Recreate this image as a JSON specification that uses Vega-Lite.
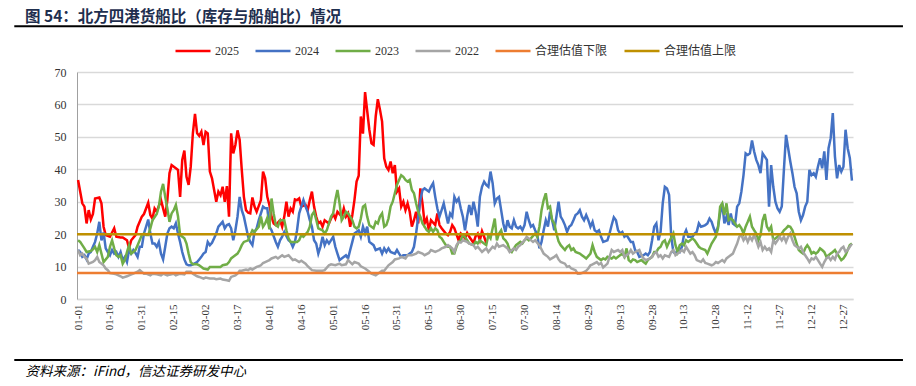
{
  "$schema": "https://vega.github.io/schema/vega-lite/v6.json",
  "width": 776,
  "height": 227,
  "autosize": "none",
  "padding": {"left": 77, "top": 72, "right": 63, "bottom": 87},
  "background": "white",
  "title": {
    "text": "图 54：北方四港货船比（库存与船舶比）情况",
    "anchor": "start",
    "frame": "group",
    "dx": -52,
    "dy": 10,
    "offset": 10,
    "font": "Noto Sans CJK SC",
    "fontSize": 15.5,
    "fontWeight": "bold",
    "color": "#1f2f4f"
  },
  "config": {
    "view": {"stroke": null},
    "axis": {"labelOverlap": false, "labelFlush": false, "labelBound": false, "ticks": false, "tickSize": 0},
    "axisX": {
      "labelAngle": 270,
      "labelFont": "Liberation Serif",
      "labelFontSize": 11,
      "labelColor": "#333333",
      "labelPadding": 5,
      "grid": false,
      "domainColor": "#d9d9d9",
      "domainWidth": 1.5,
      "titleAnchor": "start",
      "titleAlign": "left",
      "titleBaseline": "middle",
      "titleX": -52,
      "titleY": 72,
      "titleFont": "Noto Sans CJK SC",
      "titleFontSize": 13.5,
      "titleFontStyle": "italic",
      "titleFontWeight": "normal",
      "titleColor": "#000000"
    },
    "axisY": {
      "grid": true,
      "gridColor": "#d9d9d9",
      "gridWidth": 1.3,
      "domainColor": "#a0a0a0",
      "domainWidth": 1,
      "labelFont": "Liberation Serif",
      "labelFontSize": 12,
      "labelColor": "#333333",
      "labelPadding": 11
    },
    "legend": {
      "orient": "none",
      "title": null,
      "direction": "horizontal",
      "symbolType": "stroke",
      "symbolSize": 1225,
      "symbolStrokeWidth": 2.5,
      "labelFont": "Liberation Serif, Noto Sans CJK SC",
      "labelFontSize": 12,
      "labelColor": "#333333",
      "labelOffset": 3,
      "columnPadding": 11,
      "labelLimit": 200
    }
  },
  "datasets": {
    "a2025": [{"d":0,"v":36.7},{"d":2,"v":29.5},{"d":3,"v":28.5},{"d":4,"v":23.3},{"d":5,"v":27.4},{"d":6,"v":24.5},{"d":7,"v":26.2},{"d":8,"v":31},{"d":10,"v":31.3},{"d":11,"v":29.5},{"d":12,"v":22.3},{"d":13,"v":19.7},{"d":15,"v":19.2},{"d":17,"v":21.8},{"d":18,"v":19.2},{"d":20,"v":19},{"d":21,"v":19},{"d":23,"v":18.1},{"d":24,"v":15.6},{"d":25,"v":18.1},{"d":27,"v":19.7},{"d":28,"v":22.3},{"d":30,"v":25.4},{"d":31,"v":26.2},{"d":33,"v":29.7},{"d":34,"v":25.9},{"d":35,"v":24.8},{"d":36,"v":27.9},{"d":37,"v":26.9},{"d":38,"v":28.7},{"d":39,"v":30.5},{"d":41,"v":25.4},{"d":42,"v":30.5},{"d":43,"v":38.8},{"d":44,"v":41.3},{"d":46,"v":40.3},{"d":47,"v":39.8},{"d":48,"v":31.5},{"d":49,"v":42.9},{"d":50,"v":45.8},{"d":51,"v":37.7},{"d":52,"v":35.2},{"d":53,"v":40.8},{"d":54,"v":51.1},{"d":55,"v":57.1},{"d":56,"v":51.1},{"d":57,"v":50.3},{"d":58,"v":51.6},{"d":59,"v":47.5},{"d":60,"v":51.6},{"d":61,"v":51.1},{"d":62,"v":39.3},{"d":63,"v":37.2},{"d":64,"v":33.6},{"d":65,"v":30},{"d":66,"v":33.1},{"d":67,"v":32},{"d":68,"v":34.6},{"d":69,"v":30},{"d":70,"v":34.8},{"d":71,"v":25.4},{"d":72,"v":51.1},{"d":73,"v":44.9},{"d":74,"v":47.5},{"d":75,"v":52},{"d":76,"v":49.1},{"d":77,"v":39.8},{"d":78,"v":31.5},{"d":79,"v":27.4},{"d":80,"v":26.6},{"d":81,"v":26.4},{"d":82,"v":31.3},{"d":83,"v":28.5},{"d":84,"v":26.9},{"d":86,"v":30.5},{"d":87,"v":39.3},{"d":88,"v":37.2},{"d":89,"v":31.5},{"d":90,"v":29},{"d":91,"v":25.4},{"d":92,"v":23.3},{"d":93,"v":22.8},{"d":95,"v":24.3},{"d":96,"v":22.3},{"d":97,"v":25.4},{"d":98,"v":30},{"d":99,"v":25.4},{"d":100,"v":27.9},{"d":101,"v":26.9},{"d":102,"v":30.7},{"d":103,"v":30.5},{"d":104,"v":31},{"d":105,"v":28.5},{"d":107,"v":29},{"d":108,"v":27.4},{"d":109,"v":30.5},{"d":110,"v":33.1},{"d":111,"v":28.5},{"d":112,"v":25.4},{"d":113,"v":23.3},{"d":114,"v":23.8},{"d":115,"v":22.3},{"d":116,"v":24.3},{"d":118,"v":23.3},{"d":119,"v":24.8},{"d":120,"v":26.2},{"d":121,"v":24.8},{"d":122,"v":26.9},{"d":124,"v":25.4},{"d":125,"v":27.9},{"d":126,"v":25.4},{"d":127,"v":26.4},{"d":128,"v":22.3},{"d":129,"v":25.9},{"d":130,"v":30.5},{"d":131,"v":36.2},{"d":132,"v":38},{"d":133,"v":56.3},{"d":134,"v":51},{"d":135,"v":63.8},{"d":136,"v":58},{"d":137,"v":52.2},{"d":138,"v":48},{"d":139,"v":47.5},{"d":140,"v":56.3},{"d":141,"v":61.6},{"d":142,"v":58.4},{"d":143,"v":54.7},{"d":144,"v":43.4},{"d":145,"v":40.8},{"d":146,"v":39.8},{"d":147,"v":42.4},{"d":148,"v":38.8},{"d":149,"v":41.3},{"d":150,"v":33.1},{"d":151,"v":34.1},{"d":152,"v":28.5},{"d":153,"v":30},{"d":154,"v":27.4},{"d":155,"v":29.5},{"d":156,"v":26.9},{"d":157,"v":22.3},{"d":158,"v":24.3},{"d":159,"v":26.9},{"d":160,"v":23.3},{"d":161,"v":34.1},{"d":162,"v":29.5},{"d":163,"v":23.3},{"d":164,"v":24.8},{"d":165,"v":21.2},{"d":166,"v":24.3},{"d":168,"v":22.8},{"d":169,"v":26.4},{"d":170,"v":22.8},{"d":171,"v":21.8},{"d":173,"v":20.2},{"d":174,"v":19.7},{"d":175,"v":20.7},{"d":176,"v":22.8},{"d":177,"v":21.8},{"d":179,"v":18.1},{"d":180,"v":20.2},{"d":181,"v":19.6},{"d":182,"v":18.7},{"d":183,"v":20.4},{"d":184,"v":19.2},{"d":186,"v":17.3},{"d":187,"v":19.4},{"d":188,"v":20.2},{"d":189,"v":18.1},{"d":190,"v":20.9},{"d":191,"v":19.2},{"d":192,"v":17.3}],
    "a2024": [{"d":0,"v":15.1},{"d":1,"v":14.5},{"d":2,"v":13},{"d":3,"v":13.5},{"d":4,"v":12.2},{"d":5,"v":14},{"d":6,"v":14.5},{"d":7,"v":16.1},{"d":8,"v":17.6},{"d":9,"v":20.2},{"d":10,"v":23.8},{"d":11,"v":18.1},{"d":12,"v":20.5},{"d":13,"v":15.6},{"d":14,"v":14.5},{"d":15,"v":13.5},{"d":16,"v":15.1},{"d":17,"v":14},{"d":18,"v":14.5},{"d":19,"v":13},{"d":20,"v":14.5},{"d":21,"v":12},{"d":22,"v":13},{"d":23,"v":11.4},{"d":24,"v":15.1},{"d":25,"v":14},{"d":26,"v":15.1},{"d":27,"v":14.2},{"d":28,"v":13},{"d":29,"v":16.1},{"d":30,"v":16.1},{"d":31,"v":20.2},{"d":32,"v":22.3},{"d":33,"v":24.5},{"d":34,"v":20.2},{"d":35,"v":17.1},{"d":36,"v":17.1},{"d":37,"v":16.1},{"d":38,"v":17.6},{"d":39,"v":14},{"d":40,"v":12.2},{"d":41,"v":16.1},{"d":42,"v":20.2},{"d":43,"v":21.8},{"d":44,"v":22.3},{"d":45,"v":21.8},{"d":46,"v":23.3},{"d":47,"v":20.2},{"d":48,"v":17.6},{"d":49,"v":14.5},{"d":50,"v":12.2},{"d":51,"v":10.7},{"d":52,"v":10.4},{"d":53,"v":10.4},{"d":54,"v":10.7},{"d":56,"v":11.4},{"d":57,"v":12.2},{"d":58,"v":13},{"d":59,"v":14},{"d":60,"v":14.5},{"d":61,"v":17.6},{"d":62,"v":16.6},{"d":63,"v":17.3},{"d":64,"v":18.7},{"d":65,"v":20.2},{"d":66,"v":22.3},{"d":68,"v":23.8},{"d":69,"v":21.8},{"d":70,"v":22.8},{"d":71,"v":23.1},{"d":72,"v":21.8},{"d":73,"v":18.1},{"d":74,"v":21.2},{"d":75,"v":25.4},{"d":76,"v":31.5},{"d":77,"v":27.4},{"d":78,"v":25.4},{"d":79,"v":22.3},{"d":80,"v":19.2},{"d":81,"v":17.6},{"d":82,"v":16.6},{"d":83,"v":20.7},{"d":84,"v":21.8},{"d":85,"v":24.3},{"d":86,"v":26.4},{"d":87,"v":28.5},{"d":88,"v":28},{"d":89,"v":28},{"d":90,"v":22.3},{"d":91,"v":21.2},{"d":93,"v":17.6},{"d":94,"v":16.1},{"d":95,"v":18.1},{"d":96,"v":19.2},{"d":97,"v":20.7},{"d":99,"v":18.1},{"d":100,"v":17.6},{"d":101,"v":16.1},{"d":102,"v":17.6},{"d":103,"v":21.2},{"d":104,"v":26.4},{"d":106,"v":30.5},{"d":107,"v":28.5},{"d":108,"v":26.9},{"d":109,"v":24.3},{"d":110,"v":22.3},{"d":111,"v":18.1},{"d":112,"v":17.1},{"d":113,"v":14},{"d":114,"v":16.1},{"d":115,"v":19.2},{"d":116,"v":16.6},{"d":117,"v":18.1},{"d":118,"v":17.1},{"d":120,"v":19.2},{"d":121,"v":16.1},{"d":122,"v":14},{"d":123,"v":12},{"d":124,"v":12.5},{"d":126,"v":13.5},{"d":127,"v":12.5},{"d":128,"v":15.1},{"d":129,"v":17.6},{"d":130,"v":20.2},{"d":132,"v":21.2},{"d":133,"v":19.2},{"d":134,"v":22.3},{"d":135,"v":20.2},{"d":136,"v":22.3},{"d":137,"v":17.6},{"d":138,"v":17.1},{"d":139,"v":16.6},{"d":140,"v":15.1},{"d":142,"v":15.6},{"d":143,"v":14},{"d":144,"v":15.6},{"d":145,"v":14.5},{"d":146,"v":15.6},{"d":147,"v":14.5},{"d":149,"v":14},{"d":150,"v":15.1},{"d":151,"v":14},{"d":152,"v":13},{"d":153,"v":13.5},{"d":155,"v":13.5},{"d":156,"v":14},{"d":157,"v":14.5},{"d":158,"v":16.1},{"d":159,"v":20.2},{"d":160,"v":25.4},{"d":161,"v":30.5},{"d":162,"v":33.6},{"d":163,"v":34.1},{"d":165,"v":33.1},{"d":166,"v":34.6},{"d":167,"v":35.7},{"d":168,"v":31.5},{"d":169,"v":27.9},{"d":170,"v":25.4},{"d":171,"v":27.4},{"d":172,"v":29.5},{"d":173,"v":26.4},{"d":174,"v":23.3},{"d":175,"v":26.4},{"d":176,"v":25.4},{"d":177,"v":31.5},{"d":178,"v":30},{"d":179,"v":31},{"d":180,"v":28},{"d":181,"v":25.4},{"d":182,"v":21.2},{"d":183,"v":25.4},{"d":184,"v":29},{"d":185,"v":25.9},{"d":186,"v":30},{"d":187,"v":26.9},{"d":188,"v":22.3},{"d":189,"v":31.5},{"d":190,"v":34.6},{"d":191,"v":36.2},{"d":192,"v":35.2},{"d":193,"v":34.6},{"d":194,"v":39.3},{"d":195,"v":35.7},{"d":196,"v":29.5},{"d":197,"v":31},{"d":198,"v":31.5},{"d":199,"v":27.4},{"d":200,"v":23.3},{"d":201,"v":20.7},{"d":202,"v":24.3},{"d":203,"v":22.3},{"d":204,"v":21.8},{"d":205,"v":24.3},{"d":206,"v":22.3},{"d":207,"v":21.8},{"d":208,"v":22.3},{"d":209,"v":21.2},{"d":210,"v":22.8},{"d":211,"v":26.9},{"d":212,"v":24.3},{"d":213,"v":22.3},{"d":214,"v":22.8},{"d":215,"v":21.2},{"d":216,"v":19.7},{"d":217,"v":15.6},{"d":218,"v":17.6},{"d":219,"v":21.2},{"d":220,"v":24.3},{"d":221,"v":22.3},{"d":222,"v":26.9},{"d":223,"v":24.3},{"d":224,"v":21.2},{"d":225,"v":25.4},{"d":226,"v":30},{"d":227,"v":25.4},{"d":228,"v":24.3},{"d":229,"v":22.8},{"d":230,"v":20.7},{"d":231,"v":22.3},{"d":232,"v":22.8},{"d":233,"v":24.3},{"d":234,"v":25.9},{"d":235,"v":26.4},{"d":236,"v":27.4},{"d":237,"v":25.4},{"d":238,"v":24.3},{"d":239,"v":25.9},{"d":240,"v":24.3},{"d":241,"v":22.3},{"d":242,"v":23.8},{"d":243,"v":21.2},{"d":244,"v":20.7},{"d":245,"v":21.2},{"d":246,"v":19.2},{"d":247,"v":17.6},{"d":249,"v":18.1},{"d":250,"v":20.2},{"d":251,"v":22.8},{"d":252,"v":25.2},{"d":253,"v":24.3},{"d":254,"v":21.2},{"d":255,"v":20.2},{"d":256,"v":20.7},{"d":257,"v":19.2},{"d":258,"v":19.7},{"d":260,"v":17.6},{"d":261,"v":17.6},{"d":262,"v":15.1},{"d":263,"v":14.5},{"d":264,"v":13},{"d":266,"v":13.5},{"d":267,"v":14},{"d":268,"v":13.5},{"d":269,"v":14.5},{"d":270,"v":18.1},{"d":271,"v":22.3},{"d":272,"v":23.3},{"d":273,"v":18.1},{"d":274,"v":20.7},{"d":275,"v":29.5},{"d":276,"v":34.6},{"d":277,"v":34.1},{"d":278,"v":32.1},{"d":279,"v":19.2},{"d":280,"v":14.5},{"d":281,"v":14},{"d":282,"v":15.1},{"d":283,"v":14.5},{"d":284,"v":16.1},{"d":285,"v":19.7},{"d":286,"v":21.2},{"d":287,"v":19.2},{"d":289,"v":19.2},{"d":290,"v":20.2},{"d":291,"v":20.7},{"d":292,"v":23.3},{"d":293,"v":22.3},{"d":294,"v":22.5},{"d":295,"v":22.8},{"d":296,"v":23.3},{"d":297,"v":24.8},{"d":298,"v":23.8},{"d":299,"v":21.8},{"d":300,"v":20.2},{"d":301,"v":22.3},{"d":302,"v":26.4},{"d":303,"v":29.5},{"d":304,"v":23.3},{"d":305,"v":25.4},{"d":306,"v":22.8},{"d":307,"v":26.4},{"d":308,"v":23.3},{"d":309,"v":22.8},{"d":310,"v":28.5},{"d":311,"v":29.5},{"d":312,"v":33.1},{"d":313,"v":38.2},{"d":314,"v":44.9},{"d":315,"v":44.4},{"d":316,"v":44.9},{"d":317,"v":48.9},{"d":318,"v":45.5},{"d":319,"v":42.9},{"d":320,"v":41.3},{"d":321,"v":38.8},{"d":322,"v":44.9},{"d":323,"v":43.9},{"d":324,"v":42.9},{"d":325,"v":28.5},{"d":326,"v":41.3},{"d":327,"v":34.6},{"d":328,"v":30},{"d":329,"v":27.9},{"d":330,"v":26.9},{"d":331,"v":28.5},{"d":332,"v":39.8},{"d":333,"v":50.6},{"d":334,"v":46.5},{"d":335,"v":42.4},{"d":336,"v":38.8},{"d":337,"v":34.6},{"d":338,"v":32.6},{"d":339,"v":26.9},{"d":340,"v":24.3},{"d":341,"v":25.9},{"d":342,"v":28.5},{"d":343,"v":30},{"d":344,"v":39.8},{"d":345,"v":38.2},{"d":346,"v":38.8},{"d":347,"v":37.7},{"d":348,"v":40.8},{"d":349,"v":43.4},{"d":350,"v":40.3},{"d":351,"v":45.5},{"d":352,"v":36.7},{"d":353,"v":46.5},{"d":354,"v":49.6},{"d":355,"v":57.3},{"d":356,"v":44},{"d":357,"v":37.2},{"d":358,"v":41.3},{"d":359,"v":39.3},{"d":360,"v":40.8},{"d":361,"v":52.2},{"d":362,"v":46.5},{"d":363,"v":43.5},{"d":364,"v":36.5}],
    "a2023": [{"d":0,"v":18.1},{"d":1,"v":17.6},{"d":2,"v":16.6},{"d":3,"v":15.6},{"d":4,"v":14.5},{"d":6,"v":14.8},{"d":7,"v":15.3},{"d":8,"v":16.1},{"d":9,"v":14.5},{"d":10,"v":16.6},{"d":11,"v":14},{"d":12,"v":11.4},{"d":14,"v":13},{"d":15,"v":16.1},{"d":16,"v":18.1},{"d":17,"v":15.6},{"d":18,"v":13.5},{"d":19,"v":13},{"d":20,"v":13.5},{"d":21,"v":10.9},{"d":22,"v":12},{"d":23,"v":14.5},{"d":24,"v":16.6},{"d":25,"v":14},{"d":26,"v":14.5},{"d":27,"v":15.1},{"d":28,"v":16.6},{"d":30,"v":19.7},{"d":31,"v":20.2},{"d":32,"v":19.7},{"d":33,"v":19.7},{"d":34,"v":21.8},{"d":35,"v":24.3},{"d":37,"v":26.2},{"d":38,"v":28.5},{"d":39,"v":33.1},{"d":40,"v":35.5},{"d":41,"v":31.5},{"d":42,"v":27.9},{"d":43,"v":23.8},{"d":44,"v":26.4},{"d":45,"v":27.4},{"d":46,"v":29},{"d":47,"v":25.5},{"d":48,"v":19.7},{"d":50,"v":18.7},{"d":51,"v":17.1},{"d":52,"v":14},{"d":53,"v":11.4},{"d":54,"v":10.7},{"d":56,"v":10.7},{"d":57,"v":10.4},{"d":59,"v":9.4},{"d":61,"v":9.1},{"d":62,"v":9.9},{"d":64,"v":9.9},{"d":65,"v":9.9},{"d":67,"v":9.9},{"d":68,"v":10.4},{"d":70,"v":10.7},{"d":71,"v":11.4},{"d":72,"v":12.5},{"d":73,"v":13},{"d":75,"v":14},{"d":76,"v":15.1},{"d":77,"v":16.6},{"d":78,"v":17.6},{"d":80,"v":18.1},{"d":81,"v":19.7},{"d":82,"v":21.2},{"d":83,"v":20.7},{"d":85,"v":22.3},{"d":86,"v":25.4},{"d":87,"v":22.3},{"d":88,"v":23.3},{"d":89,"v":25},{"d":90,"v":21.5},{"d":91,"v":31},{"d":92,"v":26.4},{"d":93,"v":22.8},{"d":94,"v":22.3},{"d":95,"v":24.3},{"d":97,"v":24.3},{"d":98,"v":21.2},{"d":99,"v":18.7},{"d":100,"v":17.6},{"d":101,"v":17.6},{"d":103,"v":17.6},{"d":104,"v":18.1},{"d":105,"v":19.7},{"d":106,"v":19.2},{"d":108,"v":20.7},{"d":109,"v":22.3},{"d":110,"v":25.9},{"d":111,"v":26.9},{"d":112,"v":24.5},{"d":113,"v":21.8},{"d":115,"v":21.2},{"d":116,"v":20.2},{"d":117,"v":21.2},{"d":118,"v":23.3},{"d":119,"v":25.4},{"d":120,"v":26.4},{"d":121,"v":30.5},{"d":122,"v":33.6},{"d":123,"v":29.5},{"d":124,"v":24.3},{"d":125,"v":25.4},{"d":126,"v":26.9},{"d":127,"v":26.4},{"d":128,"v":25.4},{"d":129,"v":24.3},{"d":130,"v":22.3},{"d":131,"v":21.8},{"d":132,"v":22.3},{"d":133,"v":24.8},{"d":134,"v":28.5},{"d":135,"v":29},{"d":136,"v":25.4},{"d":137,"v":22.8},{"d":138,"v":22.3},{"d":139,"v":21.8},{"d":140,"v":23.8},{"d":141,"v":23.3},{"d":142,"v":25.4},{"d":143,"v":26.4},{"d":144,"v":22.3},{"d":145,"v":22.8},{"d":146,"v":24.8},{"d":147,"v":28.5},{"d":148,"v":30},{"d":149,"v":32.6},{"d":150,"v":35.2},{"d":151,"v":36.7},{"d":152,"v":38.2},{"d":153,"v":37.7},{"d":154,"v":36.7},{"d":155,"v":36.2},{"d":156,"v":36.7},{"d":157,"v":33.6},{"d":158,"v":32.6},{"d":159,"v":29.5},{"d":160,"v":26.9},{"d":161,"v":25.4},{"d":162,"v":23.3},{"d":163,"v":22.3},{"d":164,"v":21.2},{"d":165,"v":20.7},{"d":166,"v":21.8},{"d":167,"v":20.7},{"d":168,"v":21.8},{"d":169,"v":21.2},{"d":170,"v":19.2},{"d":171,"v":18.7},{"d":172,"v":17.6},{"d":173,"v":16.6},{"d":174,"v":16.1},{"d":175,"v":16.1},{"d":176,"v":14},{"d":177,"v":14},{"d":178,"v":16.1},{"d":179,"v":17.6},{"d":180,"v":18.1},{"d":181,"v":19.7},{"d":182,"v":19.2},{"d":183,"v":18.1},{"d":184,"v":17.1},{"d":186,"v":16.6},{"d":187,"v":17.6},{"d":188,"v":17.1},{"d":189,"v":18.1},{"d":190,"v":17.6},{"d":192,"v":16.6},{"d":193,"v":19.7},{"d":194,"v":18.7},{"d":195,"v":21.8},{"d":196,"v":24.8},{"d":197,"v":18.1},{"d":198,"v":20.2},{"d":199,"v":21.2},{"d":200,"v":18.7},{"d":201,"v":18.1},{"d":202,"v":17.1},{"d":203,"v":15.1},{"d":204,"v":14.5},{"d":205,"v":15.6},{"d":206,"v":16.6},{"d":208,"v":17.6},{"d":209,"v":17.1},{"d":210,"v":18.1},{"d":211,"v":18.7},{"d":212,"v":18.1},{"d":213,"v":18.7},{"d":215,"v":20.2},{"d":216,"v":19.2},{"d":217,"v":22.3},{"d":218,"v":27.4},{"d":219,"v":30.5},{"d":220,"v":32.6},{"d":221,"v":28},{"d":222,"v":28.5},{"d":223,"v":24.3},{"d":224,"v":23.3},{"d":225,"v":20.2},{"d":226,"v":17.8},{"d":227,"v":16.6},{"d":229,"v":15.1},{"d":230,"v":16.1},{"d":231,"v":16.6},{"d":232,"v":15.1},{"d":233,"v":15.6},{"d":234,"v":14.5},{"d":236,"v":14},{"d":237,"v":13.5},{"d":238,"v":13},{"d":239,"v":12.5},{"d":241,"v":14},{"d":242,"v":16.6},{"d":243,"v":14.5},{"d":244,"v":13},{"d":246,"v":12},{"d":247,"v":12.5},{"d":248,"v":12.2},{"d":249,"v":13},{"d":251,"v":12.5},{"d":252,"v":13},{"d":253,"v":12.5},{"d":254,"v":13},{"d":256,"v":14},{"d":257,"v":13},{"d":258,"v":15.6},{"d":259,"v":12},{"d":260,"v":11.4},{"d":261,"v":12.2},{"d":262,"v":12},{"d":263,"v":11.4},{"d":265,"v":12},{"d":266,"v":11.4},{"d":267,"v":10.9},{"d":268,"v":12},{"d":270,"v":13},{"d":271,"v":14.5},{"d":272,"v":14.5},{"d":273,"v":15.6},{"d":274,"v":16.1},{"d":275,"v":17.6},{"d":276,"v":18.1},{"d":277,"v":16.1},{"d":278,"v":17.6},{"d":280,"v":20.2},{"d":281,"v":16.6},{"d":282,"v":14.5},{"d":283,"v":16.6},{"d":284,"v":17.1},{"d":285,"v":16.6},{"d":286,"v":18.1},{"d":287,"v":17.6},{"d":289,"v":18.7},{"d":290,"v":18.1},{"d":291,"v":17.1},{"d":292,"v":16.1},{"d":293,"v":15.6},{"d":295,"v":15.1},{"d":296,"v":14},{"d":297,"v":15.6},{"d":298,"v":17.1},{"d":300,"v":19.2},{"d":301,"v":21.8},{"d":302,"v":28.5},{"d":303,"v":29.5},{"d":304,"v":26},{"d":305,"v":29.5},{"d":306,"v":24.3},{"d":307,"v":24.8},{"d":308,"v":24.3},{"d":309,"v":23.3},{"d":310,"v":22.3},{"d":311,"v":22.8},{"d":312,"v":21.8},{"d":313,"v":20.2},{"d":314,"v":22.3},{"d":315,"v":23.8},{"d":316,"v":25.4},{"d":317,"v":22.3},{"d":318,"v":21.2},{"d":319,"v":20.2},{"d":320,"v":18.1},{"d":321,"v":19.7},{"d":322,"v":24.3},{"d":323,"v":26.2},{"d":324,"v":22.3},{"d":325,"v":21.2},{"d":326,"v":22.3},{"d":327,"v":18.1},{"d":328,"v":18.7},{"d":329,"v":19.2},{"d":330,"v":19.7},{"d":331,"v":20.2},{"d":332,"v":21.2},{"d":333,"v":21.8},{"d":334,"v":22.5},{"d":335,"v":22.3},{"d":336,"v":21.2},{"d":337,"v":19.2},{"d":338,"v":17.1},{"d":339,"v":15.1},{"d":340,"v":14.5},{"d":341,"v":14},{"d":342,"v":15.6},{"d":343,"v":16.6},{"d":344,"v":15.6},{"d":345,"v":14},{"d":346,"v":14.5},{"d":347,"v":14},{"d":348,"v":14.5},{"d":349,"v":15.6},{"d":350,"v":15.1},{"d":351,"v":14.5},{"d":352,"v":13},{"d":353,"v":13.5},{"d":354,"v":14},{"d":355,"v":14.5},{"d":356,"v":15.1},{"d":357,"v":14},{"d":358,"v":13},{"d":359,"v":12},{"d":360,"v":12.5},{"d":361,"v":13.5},{"d":362,"v":15.1},{"d":363,"v":16.6},{"d":364,"v":17.1}],
    "a2022": [{"d":0,"v":15.1},{"d":1,"v":13.5},{"d":2,"v":14},{"d":3,"v":13},{"d":4,"v":12.5},{"d":5,"v":10.9},{"d":7,"v":11.4},{"d":8,"v":12},{"d":9,"v":13},{"d":10,"v":11.4},{"d":12,"v":10.4},{"d":13,"v":9.4},{"d":14,"v":8.9},{"d":15,"v":8},{"d":17,"v":7.8},{"d":18,"v":7.6},{"d":20,"v":7},{"d":21,"v":6.6},{"d":23,"v":7},{"d":24,"v":7.3},{"d":26,"v":7.8},{"d":28,"v":8.4},{"d":29,"v":8.9},{"d":31,"v":7.8},{"d":32,"v":7.8},{"d":34,"v":7.3},{"d":35,"v":7.8},{"d":37,"v":7.6},{"d":39,"v":7.3},{"d":40,"v":7.8},{"d":42,"v":7.3},{"d":43,"v":7.5},{"d":45,"v":7.8},{"d":46,"v":7.3},{"d":48,"v":7.8},{"d":50,"v":7.6},{"d":51,"v":8.4},{"d":53,"v":8.4},{"d":54,"v":7.8},{"d":56,"v":7},{"d":57,"v":6.8},{"d":59,"v":6.3},{"d":60,"v":6.6},{"d":62,"v":6.3},{"d":64,"v":6.3},{"d":65,"v":6.1},{"d":67,"v":6.3},{"d":68,"v":6},{"d":70,"v":5.8},{"d":71,"v":5.6},{"d":72,"v":6.8},{"d":74,"v":7.3},{"d":75,"v":7.8},{"d":76,"v":8.7},{"d":77,"v":8.7},{"d":79,"v":9.1},{"d":80,"v":8.9},{"d":81,"v":9.4},{"d":82,"v":9.1},{"d":84,"v":9.9},{"d":85,"v":10.1},{"d":86,"v":10.4},{"d":87,"v":11.1},{"d":88,"v":11.4},{"d":90,"v":12},{"d":91,"v":12.5},{"d":93,"v":13},{"d":94,"v":12.5},{"d":96,"v":13.5},{"d":97,"v":13},{"d":99,"v":13.5},{"d":101,"v":12},{"d":102,"v":12.2},{"d":104,"v":11.4},{"d":105,"v":11.8},{"d":107,"v":10.9},{"d":108,"v":10.1},{"d":110,"v":8.9},{"d":112,"v":8.7},{"d":113,"v":8.7},{"d":115,"v":8.7},{"d":116,"v":8.9},{"d":118,"v":10.4},{"d":119,"v":10.7},{"d":121,"v":10.4},{"d":123,"v":10.9},{"d":124,"v":10.4},{"d":126,"v":10.7},{"d":127,"v":12},{"d":129,"v":10.7},{"d":130,"v":11.4},{"d":132,"v":10.9},{"d":133,"v":10.1},{"d":135,"v":9.4},{"d":137,"v":8.4},{"d":138,"v":7.8},{"d":140,"v":7.3},{"d":141,"v":7.8},{"d":143,"v":8.7},{"d":144,"v":8.7},{"d":146,"v":10.4},{"d":148,"v":11.4},{"d":149,"v":12.2},{"d":151,"v":12.5},{"d":152,"v":13},{"d":154,"v":12.5},{"d":155,"v":13.5},{"d":157,"v":13.5},{"d":159,"v":14},{"d":160,"v":14.5},{"d":162,"v":14},{"d":163,"v":13.5},{"d":165,"v":14.2},{"d":166,"v":15.1},{"d":168,"v":14.5},{"d":170,"v":15.1},{"d":171,"v":15.6},{"d":173,"v":16.1},{"d":174,"v":16.6},{"d":176,"v":15.6},{"d":177,"v":14.5},{"d":178,"v":16.6},{"d":179,"v":17.6},{"d":180,"v":17.4},{"d":181,"v":18.1},{"d":183,"v":17.6},{"d":184,"v":17.1},{"d":186,"v":16.6},{"d":187,"v":15.6},{"d":188,"v":16.1},{"d":190,"v":14.5},{"d":191,"v":15.1},{"d":192,"v":15.6},{"d":193,"v":14.5},{"d":195,"v":16.1},{"d":196,"v":15.6},{"d":197,"v":17.1},{"d":198,"v":16.1},{"d":200,"v":16.6},{"d":201,"v":16.1},{"d":202,"v":15.6},{"d":203,"v":14.5},{"d":205,"v":15.6},{"d":206,"v":15.1},{"d":207,"v":16.1},{"d":208,"v":16.6},{"d":210,"v":18.1},{"d":211,"v":19.2},{"d":212,"v":18.7},{"d":214,"v":17.6},{"d":215,"v":18.1},{"d":216,"v":17.3},{"d":217,"v":16.6},{"d":219,"v":14},{"d":220,"v":13.5},{"d":221,"v":13},{"d":222,"v":12.2},{"d":224,"v":13},{"d":225,"v":13.5},{"d":226,"v":12.2},{"d":227,"v":11.4},{"d":229,"v":10.9},{"d":230,"v":9.9},{"d":231,"v":10.1},{"d":232,"v":9.4},{"d":234,"v":8.9},{"d":235,"v":7.8},{"d":236,"v":7.8},{"d":237,"v":8},{"d":239,"v":8.7},{"d":240,"v":9.4},{"d":241,"v":10.4},{"d":242,"v":10.7},{"d":244,"v":11.4},{"d":245,"v":10.7},{"d":246,"v":11.1},{"d":247,"v":9.7},{"d":249,"v":10.9},{"d":250,"v":13},{"d":251,"v":15.1},{"d":252,"v":14.5},{"d":254,"v":15.1},{"d":255,"v":14.5},{"d":256,"v":15.1},{"d":257,"v":13},{"d":259,"v":14},{"d":260,"v":15.1},{"d":261,"v":14},{"d":262,"v":14.5},{"d":264,"v":15.1},{"d":265,"v":13.5},{"d":266,"v":12.5},{"d":267,"v":12},{"d":269,"v":12.5},{"d":270,"v":13},{"d":271,"v":14},{"d":272,"v":14.5},{"d":273,"v":13},{"d":274,"v":13.5},{"d":275,"v":12.5},{"d":276,"v":13.5},{"d":278,"v":13},{"d":279,"v":14.5},{"d":280,"v":15.1},{"d":281,"v":13.5},{"d":283,"v":14.5},{"d":284,"v":15.1},{"d":285,"v":14.5},{"d":286,"v":16.1},{"d":288,"v":14},{"d":289,"v":14.5},{"d":290,"v":13.5},{"d":291,"v":12},{"d":293,"v":11.4},{"d":294,"v":12.2},{"d":295,"v":11.1},{"d":296,"v":10.9},{"d":298,"v":10.4},{"d":299,"v":10.7},{"d":300,"v":11.4},{"d":301,"v":11.1},{"d":303,"v":12},{"d":304,"v":11.4},{"d":305,"v":12.5},{"d":306,"v":13},{"d":308,"v":14},{"d":309,"v":15.6},{"d":310,"v":17.1},{"d":311,"v":19.2},{"d":312,"v":19.7},{"d":313,"v":18.1},{"d":314,"v":19.2},{"d":315,"v":17.6},{"d":316,"v":19.2},{"d":317,"v":18.1},{"d":318,"v":19.7},{"d":319,"v":18.1},{"d":320,"v":16.1},{"d":321,"v":17.6},{"d":322,"v":15.1},{"d":323,"v":16.1},{"d":324,"v":15.1},{"d":325,"v":15.6},{"d":326,"v":14.5},{"d":327,"v":18.1},{"d":328,"v":17.1},{"d":329,"v":18.1},{"d":330,"v":19.2},{"d":331,"v":18.1},{"d":332,"v":19.2},{"d":333,"v":17.6},{"d":334,"v":19.2},{"d":335,"v":20.2},{"d":336,"v":18.1},{"d":337,"v":16.6},{"d":338,"v":16.1},{"d":339,"v":15.6},{"d":340,"v":16.1},{"d":341,"v":14.5},{"d":342,"v":13.5},{"d":343,"v":12.5},{"d":344,"v":11.4},{"d":345,"v":12.5},{"d":346,"v":12.2},{"d":347,"v":13},{"d":348,"v":12},{"d":349,"v":10.9},{"d":350,"v":9.9},{"d":351,"v":11.4},{"d":352,"v":12.5},{"d":353,"v":13},{"d":354,"v":12},{"d":355,"v":13},{"d":356,"v":12.2},{"d":357,"v":14},{"d":358,"v":14.5},{"d":359,"v":15.6},{"d":360,"v":16.1},{"d":361,"v":14.5},{"d":362,"v":15.1},{"d":363,"v":16.1},{"d":364,"v":17}]
  },
  "layer": [
    {
      "encoding": {
        "x": {
          "field": "d", "type": "quantitative",
          "scale": {"domain": [-0.5, 364.5], "nice": false, "zero": false},
          "axis": {
            "values": [0, 15, 30, 45, 60, 75, 90, 105, 120, 135, 150, 165, 180, 195, 210, 225, 240, 255, 270, 285, 300, 315, 330, 345, 360],
            "labelExpr": "timeFormat(datetime(2023, 0, 1 + datum.value), '%m-%d')",
            "labelOverlap": false,
            "title": "资料来源：iFind，信达证券研发中心"
          }
        },
        "y": {
          "field": "v", "type": "quantitative",
          "scale": {"domain": [0, 70], "nice": false},
          "axis": {"values": [0, 10, 20, 30, 40, 50, 60, 70], "labelOverlap": false, "title": null}
        }
      },
      "layer": [
        {
          "data": {"name": "a2025"},
          "mark": {"type": "line", "strokeWidth": 2.5},
          "encoding": {
            "color": {
              "datum": "2025", "type": "nominal",
              "scale": {
                "domain": ["2025", "2024", "2023", "2022", "合理估值下限", "合理估值上限"],
                "range": ["#ff0000", "#4472c4", "#70ad47", "#a5a5a5", "#ed7d31", "#bf9000"]
              },
              "legend": {"orient": "none", "legendX": 97, "legendY": -40, "title": null}
            }
          }
        },
        {
          "data": {"name": "a2024"},
          "mark": {"type": "line", "strokeWidth": 2.5},
          "encoding": {"color": {"datum": "2024", "type": "nominal"}}
        },
        {
          "data": {"name": "a2023"},
          "mark": {"type": "line", "strokeWidth": 2.5},
          "encoding": {"color": {"datum": "2023", "type": "nominal"}}
        },
        {
          "data": {"name": "a2022"},
          "mark": {"type": "line", "strokeWidth": 2.5},
          "encoding": {"color": {"datum": "2022", "type": "nominal"}}
        }
      ]
    },
    {
      "data": {"values": [{"s": "合理估值下限", "v": 8}, {"s": "合理估值上限", "v": 20}]},
      "mark": {"type": "rule", "strokeWidth": 2.5},
      "encoding": {
        "y": {
          "field": "v", "type": "quantitative",
          "scale": {"domain": [0, 70], "nice": false},
          "axis": {"values": [0, 10, 20, 30, 40, 50, 60, 70], "labelOverlap": false, "title": null}
        },
        "color": {"field": "s", "type": "nominal", "legend": {"orient": "none", "legendX": 97, "legendY": -40, "title": null}}
      }
    },
    {
      "data": {"values": [{}]},
      "mark": {"type": "rule", "color": "#000000", "strokeWidth": 2},
      "encoding": {
        "x": {
          "datum": -30, "type": "quantitative",
          "scale": {"domain": [-0.5, 364.5], "nice": false, "zero": false},
          "axis": {
            "values": [0, 15, 30, 45, 60, 75, 90, 105, 120, 135, 150, 165, 180, 195, 210, 225, 240, 255, 270, 285, 300, 315, 330, 345, 360],
            "labelExpr": "timeFormat(datetime(2023, 0, 1 + datum.value), '%m-%d')",
            "labelOverlap": false,
            "title": "资料来源：iFind，信达证券研发中心"
          }
        },
        "x2": {"datum": 388},
        "y": {
          "datum": 84.1, "type": "quantitative",
          "scale": {"domain": [0, 70], "nice": false},
          "axis": {"values": [0, 10, 20, 30, 40, 50, 60, 70], "labelOverlap": false, "title": null}
        }
      }
    },
    {
      "data": {"values": [{}]},
      "mark": {"type": "rule", "color": "#000000", "strokeWidth": 2},
      "encoding": {
        "x": {
          "datum": -30, "type": "quantitative",
          "scale": {"domain": [-0.5, 364.5], "nice": false, "zero": false},
          "axis": {
            "values": [0, 15, 30, 45, 60, 75, 90, 105, 120, 135, 150, 165, 180, 195, 210, 225, 240, 255, 270, 285, 300, 315, 330, 345, 360],
            "labelExpr": "timeFormat(datetime(2023, 0, 1 + datum.value), '%m-%d')",
            "labelOverlap": false,
            "title": "资料来源：iFind，信达证券研发中心"
          }
        },
        "x2": {"datum": 388},
        "y": {
          "datum": -18.8, "type": "quantitative",
          "scale": {"domain": [0, 70], "nice": false},
          "axis": {"values": [0, 10, 20, 30, 40, 50, 60, 70], "labelOverlap": false, "title": null}
        }
      }
    }
  ]
}
